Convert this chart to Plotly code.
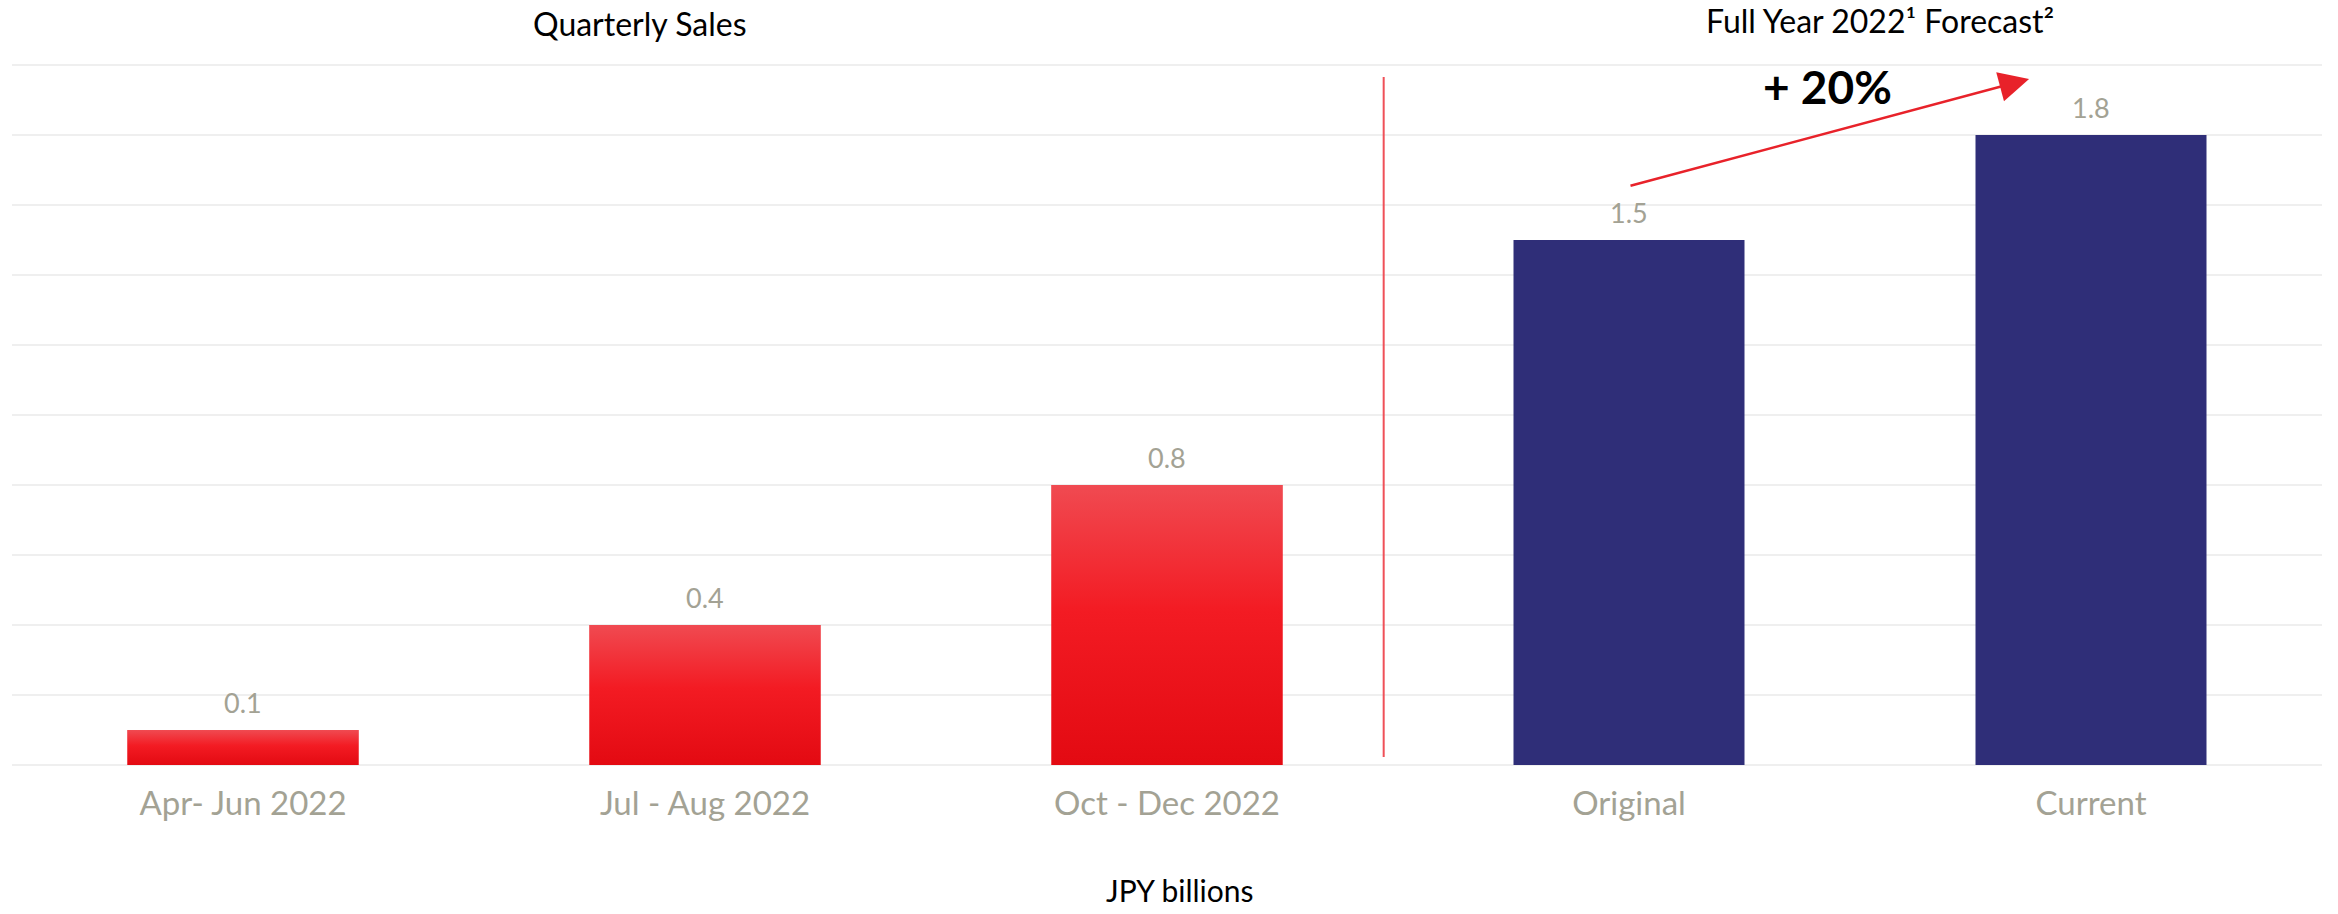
import plotly.graph_objects as go

# Sales values in JPY billions
categories = ["Apr- Jun 2022", "Jul - Aug 2022", "Oct - Dec 2022", "Original", "Current"]
quarter_labels = categories[:3]
quarter_sales = [0.1, 0.4, 0.8]
forecast_labels = categories[3:]
forecast_sales = [1.5, 1.8]
growth_label = "+ 20%"

FONT = "Lato"
GRAY = "#A3A294"
NAVY = "#2F2E78"
RED_SCALE = [[0.0, "#E30A12"], [0.55, "#F31B23"], [1.0, "#F04A51"]]
BAR_W = 0.5

qx = list(range(len(quarter_labels)))
fx = [len(quarter_labels) + i for i in range(len(forecast_labels))]

fig = go.Figure()

# Quarterly bars (base colour), with a vertical gradient overlay per bar
fig.add_trace(go.Bar(x=qx, y=quarter_sales, width=BAR_W, marker_color="#EE1820",
                     marker_line_width=0, hoverinfo="skip", showlegend=False))
for xi, v in zip(qx, quarter_sales):
    x0, x1 = xi - BAR_W / 2, xi + BAR_W / 2
    fig.add_trace(go.Scatter(
        x=[x0, x1, x1, x0, x0], y=[0, 0, v, v, 0], mode="lines",
        line=dict(width=0), fill="toself",
        fillgradient=dict(type="vertical", colorscale=RED_SCALE),
        hoverinfo="skip", showlegend=False))

# Full-year forecast bars
fig.add_trace(go.Bar(x=fx, y=forecast_sales, width=BAR_W, marker_color=NAVY,
                     marker_line_width=0, hoverinfo="skip", showlegend=False))

# Value labels above each bar
for xi, v in zip(qx + fx, quarter_sales + forecast_sales):
    fig.add_annotation(x=xi, y=v, text=f"{v:.1f}", showarrow=False,
                       yanchor="middle", yshift=28,
                       font=dict(family=FONT, size=27, color=GRAY))

# Separator between quarterly and forecast groups
fig.add_shape(type="line", xref="x", yref="y", x0=2.469, x1=2.469, y0=0.023, y1=1.966,
              line=dict(color="#EF5058", width=2))

# Growth arrow from original to current forecast
fig.add_annotation(x=3.866, y=1.96, ax=3.0, ay=1.654, xref="x", yref="y",
                   axref="x", ayref="y", text="", showarrow=True,
                   arrowhead=2, arrowsize=2.4, arrowwidth=2.5, arrowcolor="#E8222A")
fig.add_annotation(x=3.4286, y=1.94, xref="x", yref="y", text=f"<b>{growth_label}</b>",
                   showarrow=False, font=dict(family=FONT, size=46, color="#000000"))

# Group titles
fig.add_annotation(x=0.2719, y=1.0571, xref="paper", yref="paper", text="Quarterly Sales",
                   xanchor="center", yanchor="middle", showarrow=False,
                   font=dict(family=FONT, size=32, color="#000000"))
fig.add_annotation(x=0.8087, y=1.0614, xref="paper", yref="paper",
                   text="Full Year 2022¹ Forecast²", xanchor="center", yanchor="middle",
                   showarrow=False, font=dict(family=FONT, size=32, color="#000000"))

# Unit label
fig.add_annotation(x=0.5056, y=-0.178, xref="paper", yref="paper", text="JPY billions",
                   xanchor="center", yanchor="middle", showarrow=False,
                   font=dict(family=FONT, size=30, color="#000000"))

fig.update_layout(
    width=2338, height=914,
    margin=dict(l=12, r=16, t=64, b=149),
    paper_bgcolor="white", plot_bgcolor="white",
    barmode="overlay",
    showlegend=False,
    font=dict(family=FONT),
)
fig.update_xaxes(range=[-0.5, 4.5], tickvals=qx + fx, ticktext=categories,
                 showgrid=False, zeroline=False, showline=False, ticks="",
                 tickfont=dict(family=FONT, size=33, color=GRAY), ticklabelstandoff=16)
fig.update_yaxes(range=[0, 2.003], dtick=0.2, showticklabels=False,
                 showgrid=True, gridcolor="#EFEFEF", gridwidth=2,
                 zeroline=True, zerolinecolor="#EFEFEF", zerolinewidth=2, showline=False)

fig.write_html("out.html")
